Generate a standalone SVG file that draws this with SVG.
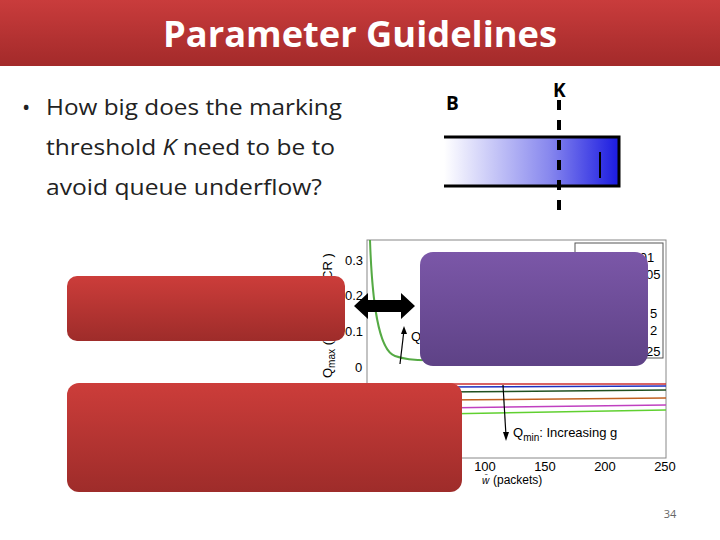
<svg xmlns="http://www.w3.org/2000/svg" width="720" height="540" viewBox="0 0 720 540">
<defs>
<linearGradient id="title" x1="0" y1="0" x2="0" y2="1"><stop offset="0" stop-color="#c93c3c"/><stop offset="1" stop-color="#a32a2a"/></linearGradient>
<linearGradient id="red" x1="0" y1="0" x2="0" y2="1"><stop offset="0" stop-color="#cc3d3a"/><stop offset="1" stop-color="#9e2c2a"/></linearGradient>
<linearGradient id="purple" x1="0" y1="0" x2="0" y2="1"><stop offset="0" stop-color="#7b57a8"/><stop offset="1" stop-color="#5e4286"/></linearGradient>
<linearGradient id="queue" x1="0" y1="0" x2="1" y2="0"><stop offset="0" stop-color="#ffffff"/><stop offset="0.6" stop-color="#8888ee"/><stop offset="1" stop-color="#1a1ae0"/></linearGradient>
<style>
.t{font-family:"Liberation Sans",Arial,sans-serif;fill:#000}
.c{font-family:"Open Sans","Liberation Sans",sans-serif}
.ax{font-size:13px}
.q{stroke:#000;stroke-width:3;fill:none}
</style>
</defs>
<g id="title-bar"><rect x="0" y="0" width="720" height="66" fill="url(#title)"/>
<text x="163" y="47" class="c" font-size="35" font-weight="bold" fill="#fff" textLength="394" lengthAdjust="spacingAndGlyphs">Parameter Guidelines</text></g>
<g id="bullet" class="c" font-size="22" fill="#222">
<text x="22" y="115">•</text>
<text x="46" y="115" textLength="296" lengthAdjust="spacingAndGlyphs">How big does the marking</text>
<text x="46" y="155" textLength="289" lengthAdjust="spacingAndGlyphs">threshold <tspan font-style="italic">K</tspan> need to be to</text>
<text x="46" y="195" textLength="276" lengthAdjust="spacingAndGlyphs">avoid queue underflow?</text>
</g>
<g id="queue-fig">
<rect x="444" y="137" width="175" height="49" fill="url(#queue)"/>
<path class="q" d="M444 137H619V186H444"/>
<line x1="600" y1="152" x2="600" y2="178" stroke="#000" stroke-width="2"/>
<line x1="559" y1="100" x2="559" y2="216" stroke="#000" stroke-width="4" stroke-dasharray="10,10"/>
<text x="446" y="110" class="c" font-size="19" font-weight="bold">B</text>
<text x="553" y="97" class="c" font-size="19" font-weight="bold">K</text>
</g>
<g id="plot">
<rect x="367" y="240" width="299" height="218" fill="#fff" stroke="#888"/>
<rect x="575" y="243" width="88" height="115" fill="#fff" stroke="#555"/>
<g class="t ax">
<text x="345" y="265">0.3</text><text x="345" y="300">0.2</text><text x="345" y="336">0.1</text><text x="355" y="372">0</text>
<text x="485" y="471" text-anchor="middle">100</text><text x="545" y="471" text-anchor="middle">150</text><text x="605" y="471" text-anchor="middle">200</text><text x="665" y="471" text-anchor="middle">250</text>
<text x="493" y="484" font-size="12">(packets)</text><text x="482" y="484" font-style="italic" font-size="10">w̄</text>
<text x="629" y="262">0.01</text><text x="646" y="279">05</text><text x="650" y="318">5</text><text x="650" y="335">2</text><text x="646" y="356">25</text>
<text x="411" y="341">Q</text>
<text x="513" y="437">Q<tspan font-size="10" dy="4">min</tspan><tspan dy="-4">: Increasing g</tspan></text>
<text transform="translate(332,378) rotate(-90)">Q<tspan font-size="10" dy="3">max</tspan><tspan dy="-3"> (fr</tspan></text>
<text transform="translate(332,280) rotate(-90)">CR )</text>
</g>
<path d="M370 240C372 300 378 350 395 356S430 360 440 360" stroke="#5a4" stroke-width="2" fill="none"/>
<line x1="400" y1="364" x2="404" y2="330" stroke="#000" stroke-width="1.2"/>
<path d="M404 326L401 334L407 334Z"/>
<line x1="440" y1="384" x2="666" y2="384" stroke="#cc3030" stroke-width="1.5"/>
<line x1="440" y1="387" x2="666" y2="386" stroke="#2030c0" stroke-width="1.5"/>
<line x1="440" y1="392" x2="666" y2="390" stroke="#205020" stroke-width="1.5"/>
<line x1="440" y1="400" x2="666" y2="398" stroke="#c06020" stroke-width="1.5"/>
<line x1="440" y1="408" x2="666" y2="405" stroke="#c040c0" stroke-width="1.5"/>
<line x1="440" y1="414" x2="666" y2="410" stroke="#60d030" stroke-width="1.5"/>
<line x1="503" y1="385" x2="506" y2="436" stroke="#000" stroke-width="1.2"/>
<path d="M506 441L503 432L509 432Z"/>
</g>
<g id="box-top"><rect x="67" y="276" width="278" height="65" rx="10" fill="url(#red)"/></g>
<g id="box-bottom"><rect x="67" y="383" width="395" height="109" rx="12" fill="url(#red)"/></g>
<g id="box-purple"><rect x="420" y="252" width="228" height="114" rx="13" fill="url(#purple)"/></g>
<g id="connectors"><path d="M354 306L368 293V300H401V293L415 306L401 319V312H368V319Z" fill="#000"/></g>
<text x="670" y="518" text-anchor="middle" class="c" font-size="11" fill="#666">34</text>
</svg>
